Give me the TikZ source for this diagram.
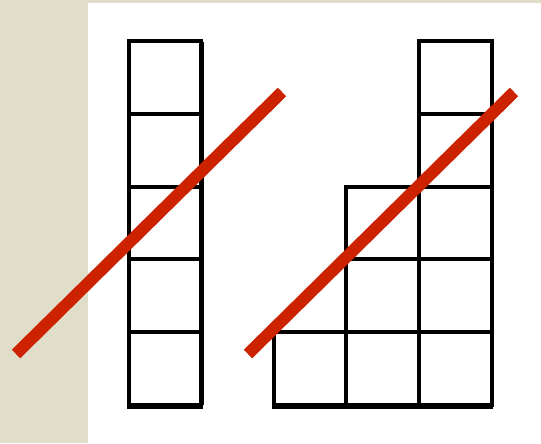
\documentclass[tikz,border=0pt]{standalone}
\usepackage{tikz}
\usepackage[dvipsnames]{xcolor}
\usetikzlibrary{calc}
\definecolor{sandbg}{HTML}{E0DEC8}
\definecolor{slashred}{HTML}{CC2200}
\tikzset{
  cellbox/.style={draw=black, line width=0.08cm},
  slash/.style={slashred, line width=0.24cm, line cap=butt}
}

\begin{document}
\begin{tikzpicture}[x=0.02cm, y=-0.02cm]
\def\cw{72.8}
\def\base{405}

% Background
\useasboundingbox (0,0) rectangle (541,443);
\fill[sandbg] (0,0) rectangle (541,443);
\fill[white] (88,2.5) rectangle (541,443);

% Left tower (5 cells)
\foreach \j in {1,...,5} {
    \draw[cellbox] (128.5,\base-\j*\cw+\cw) rectangle (200.5,\base-\j*\cw);
}
\draw[cellbox] (201.5,\base) -- (201.5,42);
\draw[cellbox] (127,\base+1.5) -- (203,\base+1.5);

% Right staircase (1, 3, 5 cells)
\foreach \i/\h in {0/1,1/3,2/5} {
    \foreach \j in {1,...,\h} {
        \draw[cellbox] (273.5+\i*\cw,\base-\j*\cw+\cw) rectangle (273.5+\i*\cw+\cw,\base-\j*\cw);
    }
}
\draw[cellbox] (491.5,\base) -- (491.5,42);
\draw[cellbox] (272,\base+1.5) -- (493,\base+1.5);

% Slashes
\coordinate (la) at (16,354);
\coordinate (lb) at (282,92);
\coordinate (ra) at (248,354);
\coordinate (rb) at (514,92);
\draw[slash] (la) -- (lb);
\draw[slash] (ra) -- (rb);
\end{tikzpicture}
\end{document}
